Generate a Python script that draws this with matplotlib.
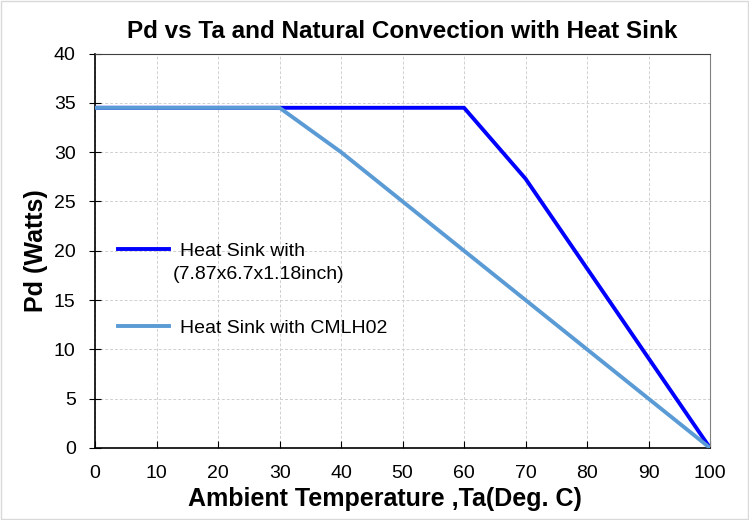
import matplotlib.pyplot as plt
from matplotlib.patches import Rectangle

plt.rcParams['font.family'] = ['Liberation Sans', 'DejaVu Sans']

# data
ta_big = [0, 60, 70, 100]
pd_big = [34.5, 34.5, 27.3, 0]
ta_cmlh = [0, 30, 40, 100]
pd_cmlh = [34.5, 34.5, 30, 0]
label_big = "Heat Sink with"
label_big_2 = "(7.87x6.7x1.18inch)"
label_cmlh = "Heat Sink with CMLH02"

fig = plt.figure(figsize=(7.49, 5.2), dpi=100)
ax = fig.add_axes([0.127, 0.1385, 0.821, 0.7585])

ax.plot(ta_big, pd_big, color='#0000FF', lw=2.8, label=label_big, zorder=3)
ax.plot(ta_cmlh, pd_cmlh, color='#5B9BD5', lw=2.8, label=label_cmlh, zorder=3)

ax.set_xlim(0, 100)
ax.set_ylim(0, 40)
ax.set_xticks(range(0, 101, 10))
ax.set_yticks(range(0, 41, 5))
ax.tick_params(labelsize=14, length=5)
ax.tick_params(axis='x', direction='in', pad=12)
ax.tick_params(axis='y', direction='inout', length=8, pad=10)
ax.grid(True, color='#d0d0d0', ls=(0, (3, 2)), lw=0.7)
for s in ['left', 'bottom']:
    ax.spines[s].set_color('black')
    ax.spines[s].set_linewidth(1.2)
ax.spines['top'].set_color('#404040')
ax.spines['right'].set_color('#808080')

ax.set_title("Pd vs Ta and Natural Convection with Heat Sink",
             fontsize=17.5, fontweight='bold', pad=11)
ax.set_xlabel("Ambient Temperature ,Ta(Deg. C)", fontsize=18, fontweight='bold')
ax.xaxis.set_label_coords(0.472, -0.100)
ax.set_ylabel("Pd (Watts)", fontsize=18, fontweight='bold', labelpad=4)

ax.legend(loc='upper left', bbox_to_anchor=(0.009, 0.565), frameon=False,
          fontsize=14, labelspacing=3.05, handlelength=2.6, handletextpad=0.6)
ax.text(0.127, 0.440, label_big_2, transform=ax.transAxes, fontsize=14,
        va='center', ha='left')

fig.patches.append(Rectangle((0.002, 0.002), 0.996, 0.996, transform=fig.transFigure,
                             fill=False, edgecolor='#d9d9d9', lw=1))

fig.savefig("out.png", dpi=100)
